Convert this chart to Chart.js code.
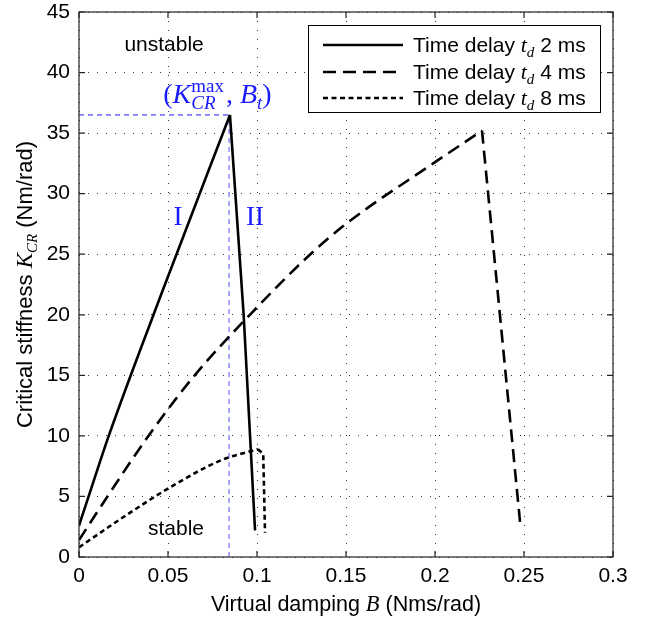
<!DOCTYPE html>
<html>
<head>
<meta charset="utf-8">
<script src="https://cdn.jsdelivr.net/npm/chart.js@4.4.1/dist/chart.umd.min.js"></script>
<style>
  html, body { margin: 0; padding: 0; background: #fff; }
  #wrap { width: 650px; height: 623px; }
</style>
</head>
<body>
<div id="wrap"><canvas id="kcrChart" width="650" height="623"></canvas></div>
<script>
// Time delay 2 ms (rising branch I, falling branch II)
const damping2Up = [0, 0.0054, 0.0167, 0.047, 0.0848];
const stiffness2Up = [2.6, 5.0, 10.0, 22.0, 36.5];
const damping2Down = [0.0848, 0.0925, 0.0989];
const stiffness2Down = [36.5, 20.0, 2.2];
// Time delay 4 ms
const damping4Up = [0, 0.016, 0.039, 0.065, 0.096, 0.130, 0.150, 0.200, 0.2264];
const stiffness4Up = [1.4, 5.0, 10.0, 15.0, 20.0, 25.0, 27.5, 32.6, 35.2];
const damping4Down = [0.2264, 0.2331, 0.2399, 0.2478];
const stiffness4Down = [35.2, 25.1, 14.8, 2.85];
// Time delay 8 ms
const damping8Up = [0, 0.026, 0.054, 0.080, 0.1005];
const stiffness8Up = [0.8, 3.4, 6.0, 8.0, 8.9];
const damping8Down = [0.1005, 0.1035, 0.1045];
const stiffness8Down = [8.9, 8.5, 2.0];

// blue guide to the peak (K_CR^max, B_t)
const guideHB = [0, 0.0848];
const guideHK = [36.5, 36.5];
const guideVB = [0.0843, 0.0843];
const guideVK = [0, 36.5];

const xTicks = [0, 0.05, 0.1, 0.15, 0.2, 0.25, 0.3];
const xTickLabels = ['0', '0.05', '0.1', '0.15', '0.2', '0.25', '0.3'];
const yTicks = [0, 5, 10, 15, 20, 25, 30, 35, 40, 45];
const yTickLabels = ['0', '5', '10', '15', '20', '25', '30', '35', '40', '45'];

const seriesNames = ['2 ms', '4 ms', '8 ms'];
const seriesDash = [[], [13, 7], [5, 3.5]];

const sans = '"Liberation Sans", Arial, sans-serif';
const serif = '"Liberation Serif", "Times New Roman", serif';
const blue = '#1a1aff';

function toPoints(xs, ys) {
    return xs.map((x, i) => ({ x: x, y: ys[i] }));
}

// draw a row of text pieces (font / vertical shift) as one line
function drawRuns(ctx, runs, x, y, align) {
    let total = 0;
    runs.forEach(r => {
        ctx.font = r.f;
        r.w = r.adv !== undefined ? r.adv : ctx.measureText(r.t).width;
        total += r.w;
    });
    let cx = align === 'center' ? x - total / 2 : x;
    ctx.textAlign = 'left';
    ctx.textBaseline = 'alphabetic';
    runs.forEach(r => {
        ctx.font = r.f;
        ctx.fillText(r.t, cx, y + (r.dy || 0));
        cx += r.w;
    });
}

const framePlugin = {
    id: 'frame',
    afterDatasetsDraw(chart) {
        const ctx = chart.ctx;
        const xs = chart.scales.x, ys = chart.scales.y;
        const a = chart.chartArea;
        ctx.save();

        // box and inward ticks
        ctx.strokeStyle = '#222';
        ctx.lineWidth = 1.2;
        ctx.strokeRect(a.left, a.top, a.right - a.left, a.bottom - a.top);
        ctx.beginPath();
        xTicks.forEach(v => {
            const px = xs.getPixelForValue(v);
            ctx.moveTo(px, a.bottom); ctx.lineTo(px, a.bottom - 6);
            ctx.moveTo(px, a.top); ctx.lineTo(px, a.top + 6);
        });
        yTicks.forEach(v => {
            const py = ys.getPixelForValue(v);
            ctx.moveTo(a.left, py); ctx.lineTo(a.left + 6, py);
            ctx.moveTo(a.right, py); ctx.lineTo(a.right - 6, py);
        });
        ctx.stroke();

        // region labels
        ctx.fillStyle = '#000';
        drawRuns(ctx, [{ t: 'unstable', f: '21px ' + sans }], xs.getPixelForValue(0.0478), ys.getPixelForValue(41.8), 'center');
        drawRuns(ctx, [{ t: 'stable', f: '21px ' + sans }], xs.getPixelForValue(0.0545), ys.getPixelForValue(1.8), 'center');

        // blue annotations
        ctx.fillStyle = blue;
        drawRuns(ctx, [{ t: 'I', f: '27px ' + serif }], xs.getPixelForValue(0.0556), ys.getPixelForValue(27.4), 'center');
        drawRuns(ctx, [{ t: 'II', f: '27px ' + serif }], xs.getPixelForValue(0.0989), ys.getPixelForValue(27.4), 'center');

        const bx = xs.getPixelForValue(0.0778), by = ys.getPixelForValue(37.5);
        ctx.font = '19px ' + serif;
        const supW = ctx.measureText('max').width;
        drawRuns(ctx, [
            { t: '(', f: '28px ' + serif },
            { t: 'K', f: 'italic 28px ' + serif },
            { t: 'max', f: '19px ' + serif, dy: -11, adv: 0 },
            { t: 'CR', f: 'italic 19px ' + serif, dy: 6, adv: supW + 2 },
            { t: ', ', f: '28px ' + serif },
            { t: 'B', f: 'italic 28px ' + serif },
            { t: 't', f: 'italic 19px ' + serif, dy: 6 },
            { t: ')', f: '28px ' + serif }
        ], bx, by, 'center');

        // axis titles
        ctx.fillStyle = '#000';
        drawRuns(ctx, [
            { t: 'Virtual damping ', f: '21.5px ' + sans },
            { t: 'B', f: 'italic 22.5px ' + serif },
            { t: ' (Nms/rad)', f: '21.5px ' + sans }
        ], (a.left + a.right) / 2, 611, 'center');

        ctx.save();
        ctx.translate(32, (a.top + a.bottom) / 2);
        ctx.rotate(-Math.PI / 2);
        drawRuns(ctx, [
            { t: 'Critical stiffness ', f: '22px ' + sans },
            { t: 'K', f: 'italic 23px ' + serif },
            { t: 'CR', f: 'italic 15px ' + serif, dy: 5 },
            { t: ' (Nm/rad)', f: '22px ' + sans }
        ], 0, 0, 'center');
        ctx.restore();

        // legend
        const lx = 308.5, ly = 25.5, lw = 292, lh = 87;
        ctx.fillStyle = '#fff';
        ctx.fillRect(lx, ly, lw, lh);
        ctx.strokeStyle = '#000';
        ctx.lineWidth = 1;
        ctx.strokeRect(lx, ly, lw, lh);
        const rows = [45, 72, 98];
        seriesNames.forEach((name, i) => {
            ctx.beginPath();
            ctx.setLineDash(seriesDash[i]);
            ctx.lineWidth = 2.5;
            ctx.moveTo(323, rows[i]);
            ctx.lineTo(403, rows[i]);
            ctx.stroke();
            ctx.setLineDash([]);
            ctx.fillStyle = '#000';
            drawRuns(ctx, [
                { t: 'Time delay ', f: '21px ' + sans },
                { t: 't', f: 'italic 22px ' + serif },
                { t: 'd', f: 'italic 15px ' + serif, dy: 5 },
                { t: ' ' + name, f: '21px ' + sans }
            ], 413, rows[i] + 7, 'left');
        });
        ctx.restore();
    }
};

function curve(label, xs, ys, dash, smooth) {
    return {
        label: label, data: toPoints(xs, ys),
        borderColor: '#000', borderWidth: 2.6, borderDash: dash,
        pointRadius: 0, showLine: true, fill: false,
        tension: 0, cubicInterpolationMode: smooth ? 'monotone' : 'default', order: 1
    };
}

new Chart(document.getElementById('kcrChart'), {
    type: 'scatter',
    data: {
        datasets: [
            curve('Time delay 2 ms', damping2Up, stiffness2Up, seriesDash[0], true),
            curve('Time delay 2 ms', damping2Down, stiffness2Down, seriesDash[0], false),
            curve('Time delay 4 ms', damping4Up, stiffness4Up, seriesDash[1], true),
            curve('Time delay 4 ms', damping4Down, stiffness4Down, seriesDash[1], false),
            curve('Time delay 8 ms', damping8Up, stiffness8Up, seriesDash[2], true),
            curve('Time delay 8 ms', damping8Down, stiffness8Down, seriesDash[2], false),
            { label: 'guide h', data: toPoints(guideHB, guideHK), borderColor: blue, borderWidth: 1, borderDash: [5, 4],
              pointRadius: 0, showLine: true, order: 10 },
            { label: 'guide v', data: toPoints(guideVB, guideVK), borderColor: '#6f6fff', borderWidth: 1.2, borderDash: [5, 4],
              pointRadius: 0, showLine: true, order: 10 }
        ]
    },
    options: {
        responsive: false,
        animation: false,
        layout: { padding: { top: 12, right: 37, left: 0, bottom: 0 } },
        plugins: { legend: { display: false }, tooltip: { enabled: false } },
        scales: {
            x: {
                type: 'linear', min: 0, max: 0.3,
                afterBuildTicks: s => { s.ticks = xTicks.map(v => ({ value: v })); },
                afterFit: s => { s.height = 66; s.paddingLeft = 0; s.paddingRight = 0; },
                ticks: {
                    callback: (v, i) => xTickLabels[i],
                    color: '#000', font: { family: sans, size: 21 }, padding: 7,
                    maxRotation: 0, autoSkip: false
                },
                grid: { color: 'rgba(0,0,0,0.8)', lineWidth: 1, drawTicks: false },
                border: { display: false, dash: [1, 8] }
            },
            y: {
                type: 'linear', min: 0, max: 45,
                afterBuildTicks: s => { s.ticks = yTicks.map(v => ({ value: v })); },
                afterFit: s => { s.width = 79; s.paddingTop = 0; s.paddingBottom = 0; },
                ticks: {
                    callback: (v, i) => yTickLabels[i],
                    color: '#000', font: { family: sans, size: 21 }, padding: 9,
                    autoSkip: false
                },
                grid: { color: 'rgba(0,0,0,0.8)', lineWidth: 1, drawTicks: false },
                border: { display: false, dash: [1, 8] }
            }
        }
    },
    plugins: [framePlugin]
});
</script>
</body>
</html>
